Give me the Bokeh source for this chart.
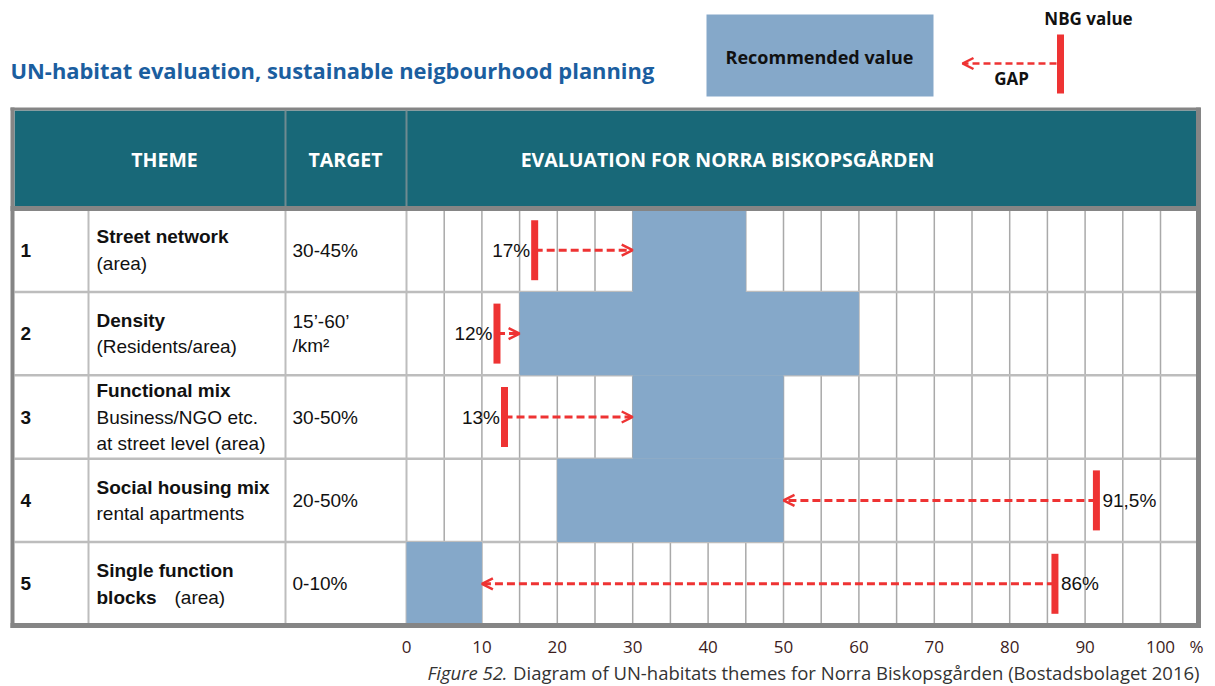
from bokeh.plotting import figure
from bokeh.models import Range1d, ColumnDataSource, Arrow, OpenHead
from bokeh.core.properties import value
from bokeh.embed import file_html
from bokeh.resources import INLINE

# ---- data -------------------------------------------------------------
row_numbers = ["1", "2", "3", "4", "5"]
theme_titles = ["Street network", "Density", "Functional mix",
                "Social housing mix", "Single function"]
theme_details = [["(area)"], ["(Residents/area)"],
                 ["Business/NGO etc.", "at street level (area)"],
                 ["rental apartments"], ["blocks"]]
targets = [["30-45%"], ["15\u2019-60\u2019", "/km\u00b2"], ["30-50%"],
           ["20-50%"], ["0-10%"]]
rec_low = [30, 15, 30, 20, 0]
rec_high = [45, 60, 50, 50, 10]
nbg_value = [17, 12, 13, 91.5, 86]
nbg_label = ["17%", "12%", "13%", "91,5%", "86%"]
tick_values = [0, 10, 20, 30, 40, 50, 60, 70, 80, 90, 100]
tick_labels = [str(t) for t in tick_values]

# ---- layout helpers ----------------------------------------------------
W, H = 1215, 686
X0, PX = 406.0, 7.54          # screen x of 0 % and pixels per percent


def sx(px):
    """screen x -> percent units on the x scale"""
    return (px - X0) / PX


HEAD_TOP, HEAD_BOT = 110, 208
ROW_TOP = 208
ROW_H = 83.4
row_tops = [ROW_TOP + i * ROW_H for i in range(5)]
row_bots = [t + ROW_H for t in row_tops]
row_mid = [(t + b) / 2 for t, b in zip(row_tops, row_bots)]
TABLE_BOT = row_bots[-1]

BAR = "#85a8c9"
RED = "#ee3333"
TEAL = "#186878"
LINE = "#bdbdbd"
BORDER = "#858585"
INK = "#111111"

p = figure(width=W, height=H, x_range=Range1d(sx(0), sx(W)),
           y_range=Range1d(H, 0), min_border=0, toolbar_location=None,
           output_backend="svg", x_axis_type=None, y_axis_type=None)
p.outline_line_color = None
p.background_fill_color = "white"
p.border_fill_color = "white"

SANS = value("Liberation Sans")
OPEN = value("Open Sans")
CELL = "19px"

# ---- header band --------------------------------------------------------
p.quad(left=sx(14), right=sx(1196), top=HEAD_TOP, bottom=HEAD_BOT,
       fill_color=TEAL, line_color=None)
p.segment(x0=[sx(285), sx(406)], y0=[HEAD_TOP] * 2, x1=[sx(285), sx(406)],
          y1=[HEAD_BOT] * 2, line_color="#6f8a90", line_width=2)
p.text(x=[sx(164), sx(345), sx(727)], y=[159, 159, 159],
       text=["THEME", "TARGET", "EVALUATION FOR NORRA BISKOPSGÅRDEN"],
       text_font=OPEN, text_font_style="bold", text_font_size="19.5px",
       text_color="white", text_align="center", text_baseline="middle")

# ---- table grid ----------------------------------------------------------
grid_x = list(range(5, 101, 5))
p.segment(x0=grid_x, y0=[ROW_TOP] * len(grid_x), x1=grid_x,
          y1=[TABLE_BOT] * len(grid_x), line_color="#a9a9a9", line_width=1.5)
p.segment(x0=[sx(88), sx(285), 0], y0=[ROW_TOP] * 3,
          x1=[sx(88), sx(285), 0], y1=[TABLE_BOT] * 3,
          line_color=LINE, line_width=2)
p.segment(x0=[sx(14)] * 4, y0=row_tops[1:], x1=[sx(1196)] * 4,
          y1=row_tops[1:], line_color=LINE, line_width=2.5)

# ---- recommended ranges ---------------------------------------------------
p.quad(left=rec_low, right=rec_high, top=row_tops, bottom=row_bots,
       fill_color=BAR, line_color=None)

# ---- outer frame -----------------------------------------------------------
p.segment(x0=[sx(10), sx(10), sx(10)], y0=[108.5, HEAD_BOT, TABLE_BOT],
          x1=[sx(1200), sx(1200), sx(1200)], y1=[108.5, HEAD_BOT, TABLE_BOT],
          line_color=BORDER, line_width=[3, 5, 5])
p.segment(x0=[sx(12), sx(1198)], y0=[107, 107], x1=[sx(12), sx(1198)],
          y1=[TABLE_BOT + 2.5] * 2, line_color=BORDER, line_width=[4, 5])

# ---- gap arrows from the NBG value to the recommended range ---------------
arr_end = []
for v, lo, hi in zip(nbg_value, rec_low, rec_high):
    arr_end.append(lo if v < lo else hi)
arrows = ColumnDataSource(dict(x0=nbg_value, x1=arr_end, y=row_mid))
p.add_layout(Arrow(source=arrows, x_start="x0", y_start="y", x_end="x1",
                   y_end="y", line_color=RED, line_width=3,
                   line_dash="8 4",
                   end=OpenHead(size=11, line_color=RED, line_width=2.5)))

# NBG markers
p.rect(x=nbg_value, y=row_mid, width=7, height=60, width_units="screen",
       height_units="screen", fill_color=RED, line_color=None)

# marker labels: left of the marker when the gap points right, else right
left_idx = [i for i in range(5) if nbg_value[i] < rec_low[i]]
right_idx = [i for i in range(5) if nbg_value[i] >= rec_low[i]]
p.text(x=[nbg_value[i] - 0.6 for i in left_idx],
       y=[row_mid[i] for i in left_idx],
       text=[nbg_label[i] for i in left_idx], text_font=SANS,
       text_font_size="19px", text_color=INK, text_align="right",
       text_baseline="middle")
p.text(x=[nbg_value[i] + 0.8 for i in right_idx],
       y=[row_mid[i] for i in right_idx],
       text=[nbg_label[i] for i in right_idx], text_font=SANS,
       text_font_size="19px", text_color=INK, text_align="left",
       text_baseline="middle")

# ---- table texts -----------------------------------------------------------
p.text(x=[sx(20)] * 5, y=row_mid, text=row_numbers, text_font=SANS,
       text_font_style="bold", text_font_size=CELL, text_color=INK,
       text_baseline="middle")

tx, ty, tt, tb = [], [], [], []
for i in range(5):
    lines = [(theme_titles[i], True)] + [(d, i == 4) for d in theme_details[i]]
    n = len(lines)
    step = 26.5
    start = row_mid[i] - step * (n - 1) / 2
    for k, (txt, bold) in enumerate(lines):
        tx.append(sx(96))
        ty.append(start + k * step)
        tt.append(txt)
        tb.append(bold)
bold_src = ColumnDataSource(dict(x=[a for a, b in zip(tx, tb) if b],
                                 y=[a for a, b in zip(ty, tb) if b],
                                 t=[a for a, b in zip(tt, tb) if b]))
reg_src = ColumnDataSource(dict(x=[a for a, b in zip(tx, tb) if not b],
                                y=[a for a, b in zip(ty, tb) if not b],
                                t=[a for a, b in zip(tt, tb) if not b]))
p.text(x="x", y="y", text="t", source=bold_src, text_font=SANS,
       text_font_style="bold", text_font_size=CELL, text_color=INK,
       text_baseline="middle")
p.text(x="x", y="y", text="t", source=reg_src, text_font=SANS,
       text_font_size=CELL, text_color=INK, text_baseline="middle")
# unit note after "blocks"
p.text(x=[sx(174)], y=[row_mid[4] + 13.25], text=["(area)"], text_font=SANS,
       text_font_size=CELL, text_color=INK, text_baseline="middle")

gx, gy, gt = [], [], []
for i in range(5):
    n = len(targets[i])
    start = row_mid[i] - 12 * (n - 1)
    for k, txt in enumerate(targets[i]):
        gx.append(sx(292))
        gy.append(start + k * 24)
        gt.append(txt)
p.text(x=gx, y=gy, text=gt, text_font=SANS, text_font_size=CELL,
       text_color=INK, text_baseline="middle")

# ---- x scale labels --------------------------------------------------------
p.text(x=tick_values, y=[646] * len(tick_values), text=tick_labels,
       text_font=OPEN, text_font_size="17px", text_color="#3d1c1c",
       text_align="center", text_baseline="middle")
p.text(x=[sx(1189)], y=[646], text=["%"], text_font=OPEN,
       text_font_size="17px", text_color="#3d1c1c", text_baseline="middle")

# ---- caption ---------------------------------------------------------------
p.text(x=[sx(507)], y=[672], text=["Figure 52."], text_font=OPEN,
       text_font_style="italic", text_font_size="18.5px",
       text_color="#333333", text_align="right", text_baseline="middle")
p.text(x=[sx(1199)], y=[672],
       text=["Diagram of UN-habitats themes for Norra Biskopsgården "
             "(Bostadsbolaget 2016)"],
       text_font=OPEN, text_font_size="18.5px", text_color="#333333",
       text_align="right", text_baseline="middle")

# ---- title -----------------------------------------------------------------
p.text(x=[sx(10)], y=[70],
       text=["UN-habitat evaluation, sustainable neigbourhood planning"],
       text_font=OPEN, text_font_style="bold", text_font_size="21.9px",
       text_color="#1b5e9f", text_baseline="middle")

# ---- key ---------------------------------------------------------------------
p.quad(left=sx(706), right=sx(933), top=14, bottom=96, fill_color=BAR,
       line_color=None)
p.text(x=[sx(819)], y=[56], text=["Recommended value"], text_font=OPEN,
       text_font_style="bold", text_font_size="18px", text_color=INK,
       text_align="center", text_baseline="middle")
key_src = ColumnDataSource(dict(x0=[sx(1056)], x1=[sx(962)], y=[63]))
p.add_layout(Arrow(source=key_src, x_start="x0", y_start="y", x_end="x1",
                   y_end="y", line_color=RED, line_width=2.5,
                   line_dash="7 4",
                   end=OpenHead(size=11, line_color=RED, line_width=2.5)))
p.rect(x=[sx(1060)], y=[63.5], width=7, height=59, width_units="screen",
       height_units="screen", fill_color=RED, line_color=None)
p.text(x=[sx(1088), sx(1011)], y=[18, 78], text=["NBG value", "GAP"],
       text_font=OPEN, text_font_style="bold", text_font_size="17px",
       text_color=INK, text_align="center", text_baseline="middle")

open("out.html", "w").write(file_html(p, INLINE))
